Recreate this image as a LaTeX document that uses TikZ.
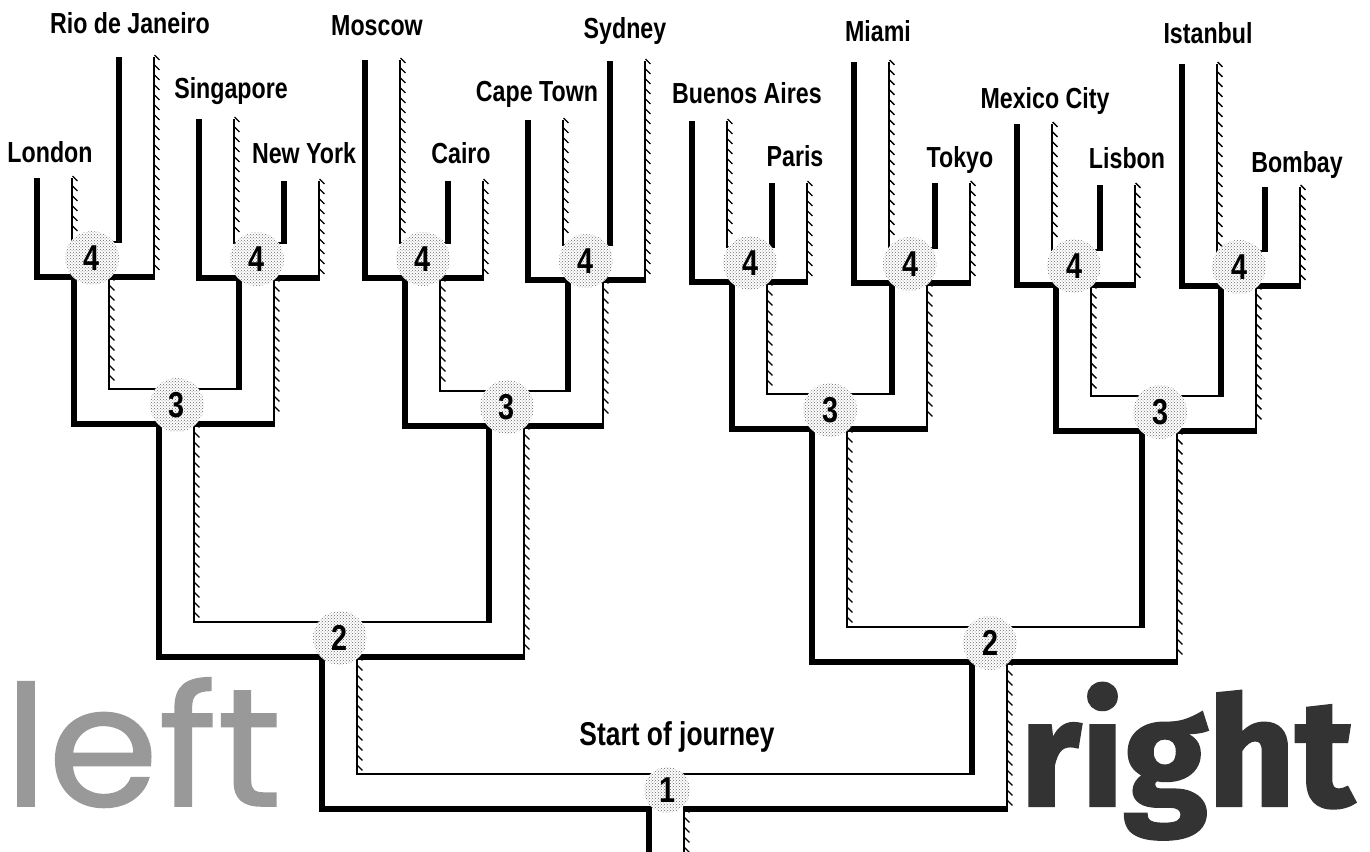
\documentclass[tikz,border=0pt]{standalone}
\usepackage{fontspec}
\usetikzlibrary{calc,patterns,decorations.pathreplacing}
\newfontfamily\labfont{Liberation Sans}[FakeStretch=0.8]
\newfontfamily\leftfont{Poppins}[FakeBold=0.9,FakeStretch=1.06]
\newfontfamily\rightfont{Fira Sans}[FakeBold=1.5]
\definecolor{leftgray}{HTML}{999999}
\definecolor{rightgray}{HTML}{333333}
\pgfdeclarelayer{bg}
\pgfsetlayers{bg,main}

\begin{document}
\begin{tikzpicture}[x=1pt,y=-1pt,
  road/.style={draw=white,line width=31pt,line join=miter,
    preaction={draw=black,line width=39pt,line join=miter,
      transform canvas={xshift=-2pt,yshift=-2pt}}},
  hatch/.style={decorate,decoration={border,segment length=10pt,amplitude=7pt,angle=45},line width=1.4pt},
  junction/.style={circle,minimum size=54pt,inner sep=0pt,preaction={fill=white},
    pattern=crosshatch dots,pattern color=black!60,font=\labfont\bfseries\fontsize{36}{36}\selectfont},
  city/.style={anchor=base,inner sep=0pt,font=\labfont\bfseries\fontsize{29}{29}\selectfont}]

  \useasboundingbox (0,0) rectangle (1370,851);

  \node[junction,minimum size=46pt] (j1) at (667,790){1};
  \node[junction] (j2a) at (340,638){2};
  \node[junction] (j2b) at (990,643){2};
  \node[junction] (j3a) at (177,405){3};
  \node[junction] (j3b) at (507,407){3};
  \node[junction] (j3c) at (830,410){3};
  \node[junction] (j3d) at (1160,412){3};
  \node[junction] (j4a) at (92,258){4};
  \node[junction] (j4b) at (257,259){4};
  \node[junction] (j4c) at (423,259){4};
  \node[junction] (j4d) at (586,261){4};
  \node[junction] (j4e) at (750,263){4};
  \node[junction] (j4f) at (910,264){4};
  \node[junction] (j4g) at (1074,266){4};
  \node[junction] (j4h) at (1239,267){4};

  \coordinate (base) at (667,870);
  \coordinate (lon) at (55,176);
  \coordinate (rio) at (137,55);
  \coordinate (sin) at (217,117);
  \coordinate (ny) at (302,179);
  \coordinate (mos) at (383,58);
  \coordinate (cai) at (466,179);
  \coordinate (cpt) at (546,118);
  \coordinate (syd) at (628,59);
  \coordinate (bue) at (710,119);
  \coordinate (par) at (790,181);
  \coordinate (mia) at (872,60);
  \coordinate (tok) at (953,181);
  \coordinate (mex) at (1035,122);
  \coordinate (lis) at (1118,183);
  \coordinate (ist) at (1200,62);
  \coordinate (bom) at (1283,185);

  \begin{pgfonlayer}{bg}
  \draw[road]
    (j1.center) -- (base)
    (j1.center) -| (j2a.center) (j1.center) -| (j2b.center)
    (j2a.center) -| (j3a.center) (j2a.center) -| (j3b.center)
    (j2b.center) -| (j3c.center) (j2b.center) -| (j3d.center)
    (j3a.center) -| (j4a.center) (j3a.center) -| (j4b.center)
    (j3b.center) -| (j4c.center) (j3b.center) -| (j4d.center)
    (j3c.center) -| (j4e.center) (j3c.center) -| (j4f.center)
    (j3d.center) -| (j4g.center) (j3d.center) -| (j4h.center)
    (j4a.center) -| (lon) (j4a.center) -| (rio)
    (j4b.center) -| (sin) (j4b.center) -| (ny)
    (j4c.center) -| (mos) (j4c.center) -| (cai)
    (j4d.center) -| (cpt) (j4d.center) -| (syd)
    (j4e.center) -| (bue) (j4e.center) -| (par)
    (j4f.center) -| (mia) (j4f.center) -| (tok)
    (j4g.center) -| (mex) (j4g.center) -| (lis)
    (j4h.center) -| (ist) (j4h.center) -| (bom);

  \draw[hatch] ($(j1.center)+(17.5,17.5)$) -- ($(base)+(17.5,0)$);
  \foreach \c/\p/\s in {j2a/j1/-1,j2b/j1/1,j3a/j2a/-1,j3b/j2a/1,j3c/j2b/-1,j3d/j2b/1,
      j4a/j3a/-1,j4b/j3a/1,j4c/j3b/-1,j4d/j3b/1,j4e/j3c/-1,j4f/j3c/1,j4g/j3d/-1,j4h/j3d/1}
    \draw[hatch] ($(\c.center)+(17.5,17.5)$) -- ($(\c.center |- \p.center)+(17.5,\s*17.5)$);
  \foreach \e/\p/\s in {lon/j4a/-1,rio/j4a/1,sin/j4b/-1,ny/j4b/1,mos/j4c/-1,cai/j4c/1,
      cpt/j4d/-1,syd/j4d/1,bue/j4e/-1,par/j4e/1,mia/j4f/-1,tok/j4f/1,
      mex/j4g/-1,lis/j4g/1,ist/j4h/-1,bom/j4h/1}
    \draw[hatch] ($(\e)+(17.5,0)$) -- ($(\e |- \p.center)+(17.5,\s*17.5)$);
  \end{pgfonlayer}

  \node[city] (rioLab) at (130,34){Rio de Janeiro};
  \node[city] (lonLab) at (50,162){London};
  \node[city] (sinLab) at (231,98){Singapore};
  \node[city] (nyLab) at (304,163){New York};
  \node[city] (mosLab) at (377,36){Moscow};
  \node[city] (caiLab) at (461,163){Cairo};
  \node[city] (cptLab) at (537,101){Cape Town};
  \node[city] (sydLab) at (625,38){Sydney};
  \node[city] (bueLab) at (747,103){Buenos Aires};
  \node[city] (parLab) at (795,166){Paris};
  \node[city] (miaLab) at (878,42){Miami};
  \node[city] (tokLab) at (960,167){Tokyo};
  \node[city] (mexLab) at (1045,108){Mexico City};
  \node[city] (lisLab) at (1127,168){Lisbon};
  \node[city] (istLab) at (1208,44){Istanbul};
  \node[city] (bomLab) at (1297,172){Bombay};
  \node[city,font=\labfont\bfseries\fontsize{33}{33}\selectfont] (startLab) at (677,745){Start of journey};

  \node[anchor=base west,inner sep=0pt,text=leftgray,
    font=\leftfont\fontsize{168}{168}\selectfont] (leftWord) at (4,806){left};
  \node[anchor=base west,inner sep=0pt,text=rightgray,
    font=\rightfont\bfseries\fontsize{152}{152}\selectfont] (rightWord) at (1020,806){right};
\end{tikzpicture}
\end{document}
